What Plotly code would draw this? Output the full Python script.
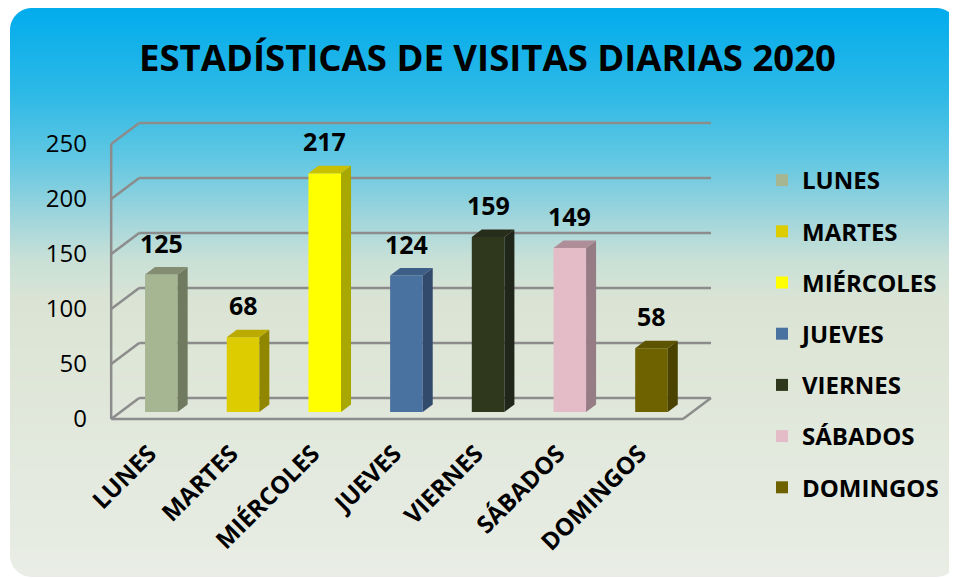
import base64
import struct
import zlib
import plotly.graph_objects as go

# ---------------- data ----------------
days = ["LUNES", "MARTES", "MIÉRCOLES", "JUEVES", "VIERNES", "SÁBADOS", "DOMINGOS"]
visits = [125, 68, 217, 124, 159, 149, 58]
front_colors = ["#A6B592", "#DDCC00", "#FFFF00", "#4A72A0", "#2F381C", "#E3BCC8", "#6E6200"]
side_colors = ["#6F7A5F", "#918600", "#A8A800", "#324A6C", "#20261A", "#967C85", "#4A4200"]
top_colors = ["#848D71", "#BBAA00", "#C8C000", "#3D5E86", "#272D1A", "#B08E99", "#5E5300"]
y_ticks = [0, 50, 100, 150, 200, 250]
title_text = "ESTADÍSTICAS DE VISITAS DIARIAS 2020"

# ---------------- geometry (screen px, page body has an 8px margin) ----------------
OFF = 8
W, H = 957 - OFF, 578 - OFF
PL, PR, PT, PB = 96, 725, 100, 434          # plot area on screen
L, T = PL - OFF, PT - OFF
R, B = W - (PR - OFF), H - (PB - OFF)
PW, PH = W - L - R, H - T - B
XR = [-0.8, 6.9]
S = PW / (XR[1] - XR[0])          # px per category
K = 1.1                            # px per value unit
FRONT0 = 419                       # screen pixel of value 0 on front plane
y_front = [-(PB - FRONT0) / K, (FRONT0 - PT) / K]
BAR_SHIFT = 7                      # bar plane lies 7px above front plane
y_bar = [y_front[0] - BAR_SHIFT / K, y_front[1] - BAR_SHIFT / K]

DX, DY = 28 / S, 21 / K            # full depth of the floor
xl = -0.5 - DX / 3
xr = len(days) - 0.5 - DX / 3
BW = 32.6 / S                      # bar width
BX, BY = 10 / S, 7.5 / K           # bar depth

FONT = "Open Sans"


def png_card(w, h, radius, stops):
    def col(t):
        for (t0, c0), (t1, c1) in zip(stops[:-1], stops[1:]):
            if t <= t1:
                f = (t - t0) / (t1 - t0) if t1 > t0 else 0
                return tuple(int(round(a + (b - a) * f)) for a, b in zip(c0, c1))
        return stops[-1][1]

    rows = []
    for y in range(h):
        r, g, b = col(y / (h - 1))
        row = bytearray(bytes([r, g, b, 255]) * w)
        cy = None
        if y < radius:
            cy = radius - 0.5
        elif y >= h - radius:
            cy = h - radius - 0.5
        if cy is not None:
            for x in list(range(radius)) + list(range(w - radius, w)):
                cx = radius - 0.5 if x < radius else w - radius - 0.5
                d = ((x - cx) ** 2 + (y - cy) ** 2) ** 0.5
                a = max(0.0, min(1.0, radius + 0.5 - d))
                row[x * 4 + 3] = int(a * 255)
        rows.append(b"\x00" + bytes(row))
    raw = b"".join(rows)

    def chunk(t, d):
        c = struct.pack(">I", len(d)) + t + d
        return c + struct.pack(">I", zlib.crc32(t + d) & 0xFFFFFFFF)

    png = (b"\x89PNG\r\n\x1a\n"
           + chunk(b"IHDR", struct.pack(">IIBBBBB", w, h, 8, 6, 0, 0, 0))
           + chunk(b"IDAT", zlib.compress(raw, 9))
           + chunk(b"IEND", b""))
    return "data:image/png;base64," + base64.b64encode(png).decode()


CX0, CY0, CX1, CY1 = 10, 8, 958, 577     # card on screen
grad_stops = [
    (0.00, (2, 172, 237)),
    (0.15, (45, 185, 230)),
    (0.27, (100, 200, 226)),
    (0.36, (155, 212, 220)),
    (0.44, (200, 224, 215)),
    (0.52, (219, 228, 212)),
    (1.00, (233, 237, 229)),
]
card = png_card(CX1 - CX0, CY1 - CY0, 22, grad_stops)

fig = go.Figure()

for i, (d, v) in enumerate(zip(days, visits)):
    fig.add_trace(go.Bar(
        x=[i], y=[v], name="<b>" + d + "</b>", yaxis="y2", width=BW,
        marker=dict(color=front_colors[i], line=dict(width=0)),
        legendgroup=d, hovertemplate=d + ": %{y}<extra></extra>",
    ))

shapes = []
GRID = dict(color="#8C8C8C", width=2.5)
for v in y_ticks:
    shapes.append(dict(type="line", xref="x", yref="y", x0=xl + DX, y0=v + DY,
                       x1=xr + DX, y1=v + DY, line=GRID, layer="below"))
    shapes.append(dict(type="line", xref="x", yref="y", x0=xl, y0=v,
                       x1=xl + DX, y1=v + DY, line=GRID, layer="below"))
shapes.append(dict(type="line", xref="x", yref="y", x0=xl, y0=y_ticks[0],
                   x1=xl, y1=y_ticks[-1], line=GRID, layer="below"))
shapes.append(dict(type="line", xref="x", yref="y", x0=xl, y0=0,
                   x1=xr, y1=0, line=GRID, layer="below"))
shapes.append(dict(type="line", xref="x", yref="y", x0=xr, y0=0,
                   x1=xr + DX, y1=DY, line=GRID, layer="below"))

for i, v in enumerate(visits):
    a, b = i - BW / 2, i + BW / 2
    side = f"M {b},0 L {b + BX},{BY} L {b + BX},{v + BY} L {b},{v} Z"
    top = f"M {a},{v} L {b},{v} L {b + BX},{v + BY} L {a + BX},{v + BY} Z"
    shapes.append(dict(type="path", xref="x", yref="y2", path=side,
                       fillcolor=side_colors[i], line=dict(width=0), layer="above"))
    shapes.append(dict(type="path", xref="x", yref="y2", path=top,
                       fillcolor=top_colors[i], line=dict(width=0), layer="above"))

annotations = []
for i, v in enumerate(visits):
    annotations.append(dict(x=i, y=v, xref="x", yref="y2", text=f"<b>{v}</b>",
                            showarrow=False, yanchor="bottom", yshift=13,
                            font=dict(family=FONT, size=25, color="#000000")))

fig.update_layout(
    width=W, height=H,
    margin=dict(l=L, r=R, t=T, b=B, autoexpand=False),
    paper_bgcolor="#FFFFFF", plot_bgcolor="rgba(0,0,0,0)",
    barmode="overlay",
    title=dict(text="<b>" + title_text + "</b>", x=(487.5 - OFF) / W, xref="container",
               xanchor="center", y=1 - (58 - OFF) / H, yref="container", yanchor="middle",
               font=dict(family=FONT, size=36.5, color="#000000")),
    xaxis=dict(range=XR, tickvals=list(range(len(days))), ticktext=["<b>" + d + "</b>" for d in days],
               tickangle=-45, showgrid=False, zeroline=False, showline=False,
               ticklabelshift=-12,
               tickfont=dict(family=FONT, size=24, color="#000000")),
    yaxis=dict(range=y_front, tickvals=y_ticks, showgrid=False, zeroline=False,
               showline=False, ticklabelstandoff=8,
               tickfont=dict(family=FONT, size=24, color="#000000")),
    yaxis2=dict(range=y_bar, overlaying="y", visible=False),
    legend=dict(x=(762 - OFF) / W, xref="container", xanchor="left",
                y=1 - (158 - OFF) / H, yref="container", yanchor="top",
                font=dict(family=FONT, size=24, color="#000000"),
                tracegroupgap=17, maxheight=450, bgcolor="rgba(0,0,0,0)"),
    shapes=shapes,
    annotations=annotations,
    images=[dict(source=card, xref="paper", yref="paper",
                 x=(CX0 - PL) / PW, y=(PB - CY0) / PH,
                 sizex=(CX1 - CX0) / PW, sizey=(CY1 - CY0) / PH,
                 xanchor="left", yanchor="top", sizing="stretch", layer="below")],
)

fig.write_html("out.html")
